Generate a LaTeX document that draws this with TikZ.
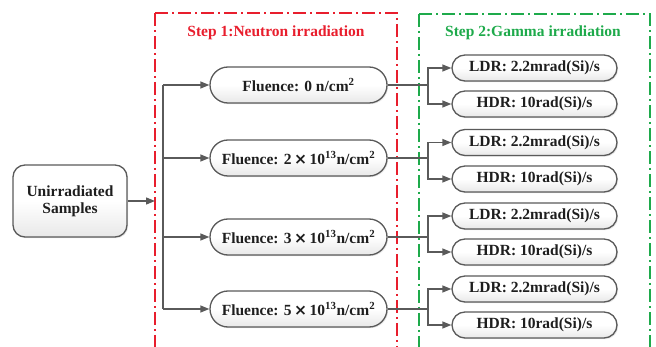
\documentclass[tikz,border=0pt]{standalone}
\usepackage{fontspec}
\setmainfont{Liberation Serif}
\newfontfamily\timesx{DejaVu Sans}
\usetikzlibrary{arrows.meta,shadows}
\definecolor{boxline}{RGB}{90,90,90}
\definecolor{stepred}{RGB}{232,30,45}
\definecolor{stepgreen}{RGB}{30,170,75}
\definecolor{txt}{RGB}{30,30,30}
\newcommand{\tms}{\,{\timesx\bfseries ×}\,}
\tikzset{
  base/.style={draw=boxline, line width=1.3pt, top color=white, bottom color=black!9,
    middle color=white,
    drop shadow={shadow xshift=1.2pt, shadow yshift=-1.2pt, opacity=0.2},
    inner sep=0pt, text=txt, font=\fontsize{15.5}{17}\selectfont\bfseries},
  sample/.style={base, minimum width=114pt, minimum height=72pt, rounded corners=12pt, align=center},
  fluence/.style={base, minimum width=177pt, minimum height=36pt, rounded corners=18pt},
  rate/.style={base, minimum width=165pt, minimum height=26pt, rounded corners=13pt},
  conn/.style={draw=boxline, line width=1.3pt},
  arr/.style={conn, -{Triangle[length=9pt,width=7pt]}},
  stepframe/.style={line width=1.4pt, dash pattern=on 13pt off 4pt on 2pt off 4pt},
  title/.style={font=\fontsize{15.5}{17}\selectfont\bfseries}
}
\begin{document}
\begin{tikzpicture}[x=1pt,y=-1pt]
\useasboundingbox (0,0) rectangle (656,347);
\begin{scope}
\clip (0,0) rectangle (656,347);
\draw[stepframe, stepred] (155,13) -- (155,360) (155,13) -- (397,13) -- (397,360);
\draw[stepframe, stepgreen] (419,14) -- (419,360) (419,14) -- (650,14) -- (650,360);
\end{scope}
\node[title, text=stepred] (t1) at (276,33) {Step 1:Neutron irradiation};
\node[title, text=stepgreen] (t2) at (533,33) {Step 2:Gamma irradiation};

\node[sample] (s) at (70,201) {Unirradiated\\Samples};
\coordinate (sin) at (155,201);
\draw[arr] (s.east) -- (sin);

\node[fluence] (f1) at (298.5,85) {Fluence: 0 n/cm\textsuperscript{2}};
\node[fluence] (f2) at (298.5,158) {Fluence: 2\tms 10\textsuperscript{13}n/cm\textsuperscript{2}};
\node[fluence] (f3) at (298.5,237) {Fluence: 3\tms 10\textsuperscript{13}n/cm\textsuperscript{2}};
\node[fluence] (f4) at (298.5,309) {Fluence: 5\tms 10\textsuperscript{13}n/cm\textsuperscript{2}};

\coordinate (ttop) at (163,85);
\coordinate (tbot) at (163,309);
\draw[conn] (ttop) -- (tbot);
\foreach \f in {f1,f2,f3,f4}{
  \draw[arr] (ttop |- \f.west) -- (\f.west);
}

\foreach \i/\yl/\yh in {1/68/104, 2/142.5/179, 3/216/252, 4/289/325}{
  \node[rate] (l\i) at (534.5,\yl) {LDR: 2.2mrad(Si)/s};
  \node[rate] (h\i) at (534.5,\yh) {HDR: 10rad(Si)/s};
  \coordinate (sp\i) at (428,0);
  \draw[conn] (f\i.east) -- (sp\i |- f\i.east);
  \draw[arr] (sp\i |- f\i.east) |- (l\i.west);
  \draw[arr] (sp\i |- f\i.east) |- (h\i.west);
}
\end{tikzpicture}
\end{document}
